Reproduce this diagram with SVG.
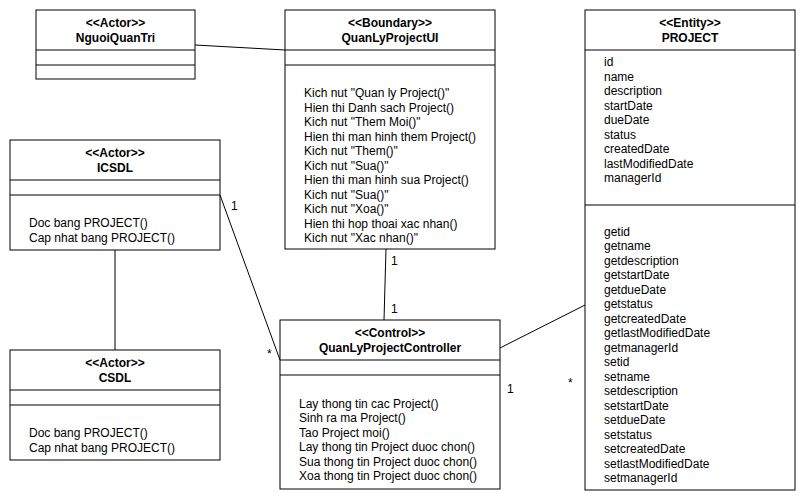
<svg xmlns="http://www.w3.org/2000/svg" width="806" height="501" viewBox="0 0 806 501">
<style>
rect{fill:#fff;stroke:#000;stroke-width:1}
line.d{stroke:#000;stroke-width:1}
.c{stroke:#000;stroke-width:1;fill:none}
text{font-family:"Liberation Sans",Arial,sans-serif;font-size:12px;fill:#000}
.h{font-weight:bold;text-anchor:middle}
</style>
<rect x="0" y="0" width="806" height="501" style="stroke:none"/>
<g id="connectors">
<line class="c" x1="195" y1="45" x2="285" y2="50"/>
<line class="c" x1="115" y1="250" x2="115" y2="350"/>
<line class="c" x1="220" y1="195" x2="280" y2="360"/>
<line class="c" x1="386" y1="249" x2="384" y2="320"/>
<line class="c" x1="500" y1="348" x2="585" y2="305"/>
<text x="231" y="210">1</text>
<text x="267" y="358">*</text>
<text x="391" y="265">1</text>
<text x="391" y="313">1</text>
<text x="507" y="393">1</text>
<text x="568" y="387">*</text>
</g>
<g id="NguoiQuanTri">
<rect x="36" y="10" width="159" height="69"/>
<line class="d" x1="36" y1="50" x2="195" y2="50"/>
<line class="d" x1="36" y1="65" x2="195" y2="65"/>
<text class="h" x="115.5" y="27">&lt;&lt;Actor&gt;&gt;</text>
<text class="h" x="115.5" y="42">NguoiQuanTri</text>
</g>
<g id="QuanLyProjectUI">
<rect x="285" y="10" width="210" height="239"/>
<line class="d" x1="285" y1="50" x2="495" y2="50"/>
<line class="d" x1="285" y1="65" x2="495" y2="65"/>
<text class="h" x="390" y="27">&lt;&lt;Boundary&gt;&gt;</text>
<text class="h" x="390" y="42">QuanLyProjectUI</text>
<text x="304" y="97">Kich nut "Quan ly Project()"</text>
<text x="304" y="111.5">Hien thi Danh sach Project()</text>
<text x="304" y="126">Kich nut "Them Moi()"</text>
<text x="304" y="140.5">Hien thi man hinh them Project()</text>
<text x="304" y="155">Kich nut "Them()"</text>
<text x="304" y="169.5">Kich nut "Sua()"</text>
<text x="304" y="184">Hien thi man hinh sua Project()</text>
<text x="304" y="198.5">Kich nut "Sua()"</text>
<text x="304" y="213">Kich nut "Xoa()"</text>
<text x="304" y="227.5">Hien thi hop thoai xac nhan()</text>
<text x="304" y="242">Kich nut "Xac nhan()"</text>
</g>
<g id="PROJECT">
<rect x="585" y="10" width="210" height="480"/>
<line class="d" x1="585" y1="50" x2="795" y2="50"/>
<line class="d" x1="585" y1="205" x2="795" y2="205"/>
<text class="h" x="690" y="27">&lt;&lt;Entity&gt;&gt;</text>
<text class="h" x="690" y="42">PROJECT</text>
<text x="604" y="66">id</text>
<text x="604" y="80.5">name</text>
<text x="604" y="95">description</text>
<text x="604" y="109.5">startDate</text>
<text x="604" y="124">dueDate</text>
<text x="604" y="138.5">status</text>
<text x="604" y="153">createdDate</text>
<text x="604" y="167.5">lastModifiedDate</text>
<text x="604" y="182">managerId</text>
<text x="604" y="235.5">getid</text>
<text x="604" y="250">getname</text>
<text x="604" y="264.5">getdescription</text>
<text x="604" y="279">getstartDate</text>
<text x="604" y="293.5">getdueDate</text>
<text x="604" y="308">getstatus</text>
<text x="604" y="322.5">getcreatedDate</text>
<text x="604" y="337">getlastModifiedDate</text>
<text x="604" y="351.5">getmanagerId</text>
<text x="604" y="366">setid</text>
<text x="604" y="380.5">setname</text>
<text x="604" y="395">setdescription</text>
<text x="604" y="409.5">setstartDate</text>
<text x="604" y="424">setdueDate</text>
<text x="604" y="438.5">setstatus</text>
<text x="604" y="453">setcreatedDate</text>
<text x="604" y="467.5">setlastModifiedDate</text>
<text x="604" y="482">setmanagerId</text>
</g>
<g id="ICSDL">
<rect x="10" y="140" width="210" height="110"/>
<line class="d" x1="10" y1="180" x2="220" y2="180"/>
<line class="d" x1="10" y1="195" x2="220" y2="195"/>
<text class="h" x="115" y="157">&lt;&lt;Actor&gt;&gt;</text>
<text class="h" x="115" y="172">ICSDL</text>
<text x="29" y="227">Doc bang PROJECT()</text>
<text x="29" y="242">Cap nhat bang PROJECT()</text>
</g>
<g id="CSDL">
<rect x="10" y="350" width="210" height="110"/>
<line class="d" x1="10" y1="390" x2="220" y2="390"/>
<line class="d" x1="10" y1="405" x2="220" y2="405"/>
<text class="h" x="115" y="367">&lt;&lt;Actor&gt;&gt;</text>
<text class="h" x="115" y="382">CSDL</text>
<text x="29" y="437">Doc bang PROJECT()</text>
<text x="29" y="452">Cap nhat bang PROJECT()</text>
</g>
<g id="QuanLyProjectController">
<rect x="280" y="320" width="220" height="169"/>
<line class="d" x1="280" y1="360" x2="500" y2="360"/>
<line class="d" x1="280" y1="375" x2="500" y2="375"/>
<text class="h" x="390" y="337">&lt;&lt;Control&gt;&gt;</text>
<text class="h" x="390" y="352">QuanLyProjectController</text>
<text x="299" y="407.5">Lay thong tin cac Project()</text>
<text x="299" y="422">Sinh ra ma Project()</text>
<text x="299" y="436.5">Tao Project moi()</text>
<text x="299" y="451">Lay thong tin Project duoc chon()</text>
<text x="299" y="465.5">Sua thong tin Project duoc chon()</text>
<text x="299" y="480">Xoa thong tin Project duoc chon()</text>
</g>
</svg>
